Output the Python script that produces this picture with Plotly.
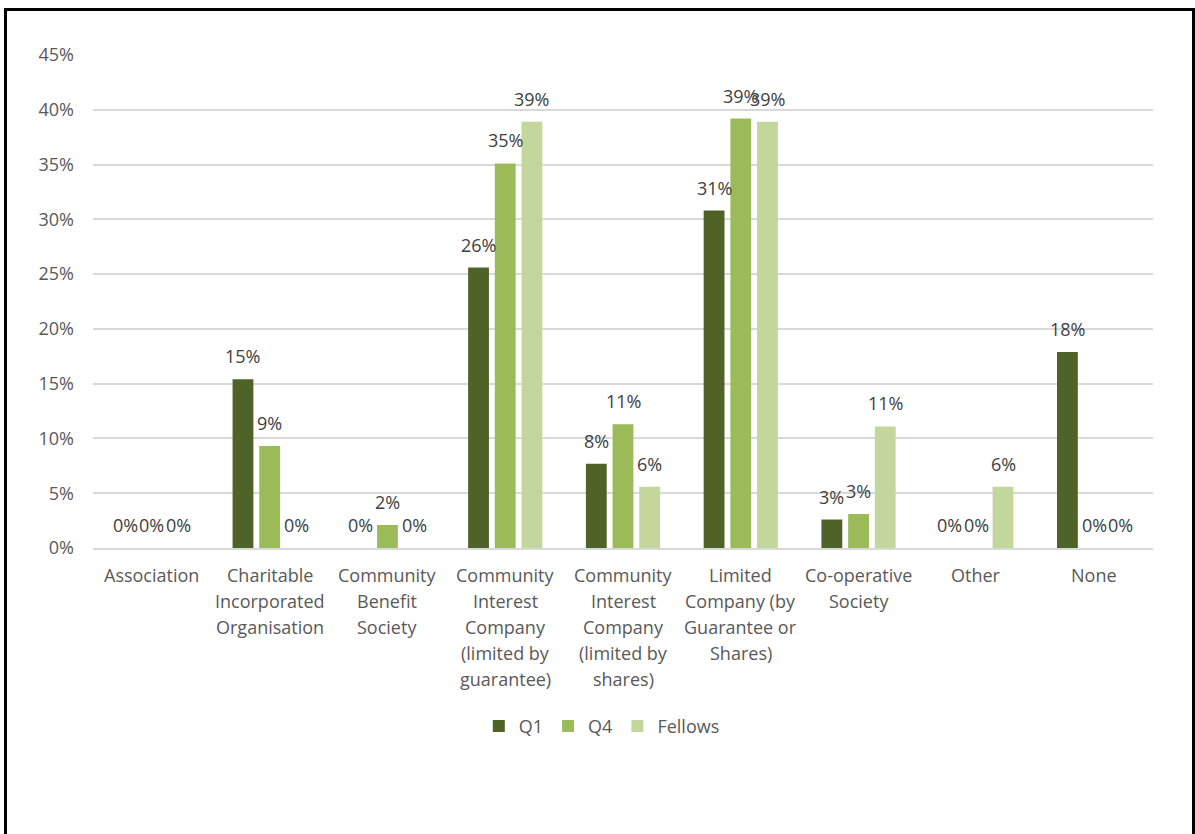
import plotly.graph_objects as go

# Legal structure of organisations, share of respondents per group (%)
categories = [
    "Association",
    "Charitable<br>Incorporated<br>Organisation",
    "Community<br>Benefit<br>Society",
    "Community<br>Interest<br>Company<br>(limited by<br>guarantee)",
    "Community<br>Interest<br>Company<br>(limited by<br>shares)",
    "Limited<br>Company (by<br>Guarantee or<br>Shares)",
    "Co-operative<br>Society",
    "Other",
    "None",
]
q1 = [0, 15.4, 0, 25.6, 7.7, 30.8, 2.6, 0, 17.9]
q4 = [0, 9.3, 2.1, 35.1, 11.3, 39.2, 3.1, 0, 0]
fellows = [0, 0, 0, 38.9, 5.6, 38.9, 11.1, 5.6, 0]

series = [("Q1", q1, "#4F6228"), ("Q4", q4, "#9BBB59"), ("Fellows", fellows, "#C3D69B")]

W, H = 1195, 834
ML, MR, MT, MB = 93, 42, 55, 285.5
plot_w = W - ML - MR
plot_h = H - MT - MB
bargap = 0.32
slot = plot_w / len(categories) * (1 - bargap) / len(series)

FONT = "Open Sans"
TXT = "#595959"
LINE_H = 26  # spacing between wrapped category label lines

fig = go.Figure()
for name, vals, color in series:
    fig.add_trace(go.Bar(
        name=name, x=categories, y=[v / 100 for v in vals],
        marker=dict(color=color, line=dict(width=0)),
    ))

# value labels sitting above each bar
for i, (name, vals, color) in enumerate(series):
    for cat, v in zip(categories, vals):
        fig.add_annotation(
            x=cat, y=v / 100, text=f"{v:.0f}%", showarrow=False,
            xshift=(i - 1) * slot, yshift=23, yanchor="middle", xanchor="center",
            font=dict(family=FONT, size=18, color="#404040"),
        )

# category labels under the axis, one line at a time for wider line spacing
for cat in categories:
    for k, line in enumerate(cat.split("<br>")):
        fig.add_annotation(
            x=cat, xref="x", y=0, yref="paper", text=line, showarrow=False,
            yshift=-(27 + LINE_H * k), yanchor="middle", xanchor="center",
            font=dict(family=FONT, size=18, color=TXT),
        )

# outer frame
def px_x(p):
    return (p - ML) / plot_w

def px_y(p):
    return (H - MB - p) / plot_h

fig.add_shape(type="rect", xref="paper", yref="paper",
              x0=px_x(5.5), x1=px_x(1193.5), y0=px_y(850), y1=px_y(9.5),
              line=dict(color="black", width=3), fillcolor="rgba(0,0,0,0)")

fig.update_layout(
    width=W, height=H,
    margin=dict(l=ML, r=MR, t=MT, b=MB),
    paper_bgcolor="white", plot_bgcolor="white",
    barmode="group", bargap=bargap, bargroupgap=0.22,
    font=dict(family=FONT, size=18, color=TXT),
    showlegend=True,
    legend=dict(orientation="h", x=0.48, xanchor="center", y=px_y(727), yanchor="middle",
                font=dict(family=FONT, size=18, color=TXT), itemwidth=30,
                traceorder="normal"),
    xaxis=dict(showgrid=False, showline=True, linecolor="#D9D9D9", linewidth=2,
               ticks="", showticklabels=False),
    yaxis=dict(range=[0, 0.45], dtick=0.05, tickformat=".0%", showgrid=True,
               gridcolor="#D9D9D9", gridwidth=2, zeroline=False, showline=False,
               ticks="", ticklabelstandoff=18,
               tickfont=dict(family=FONT, size=18, color=TXT)),
)

fig.write_html("out.html")
